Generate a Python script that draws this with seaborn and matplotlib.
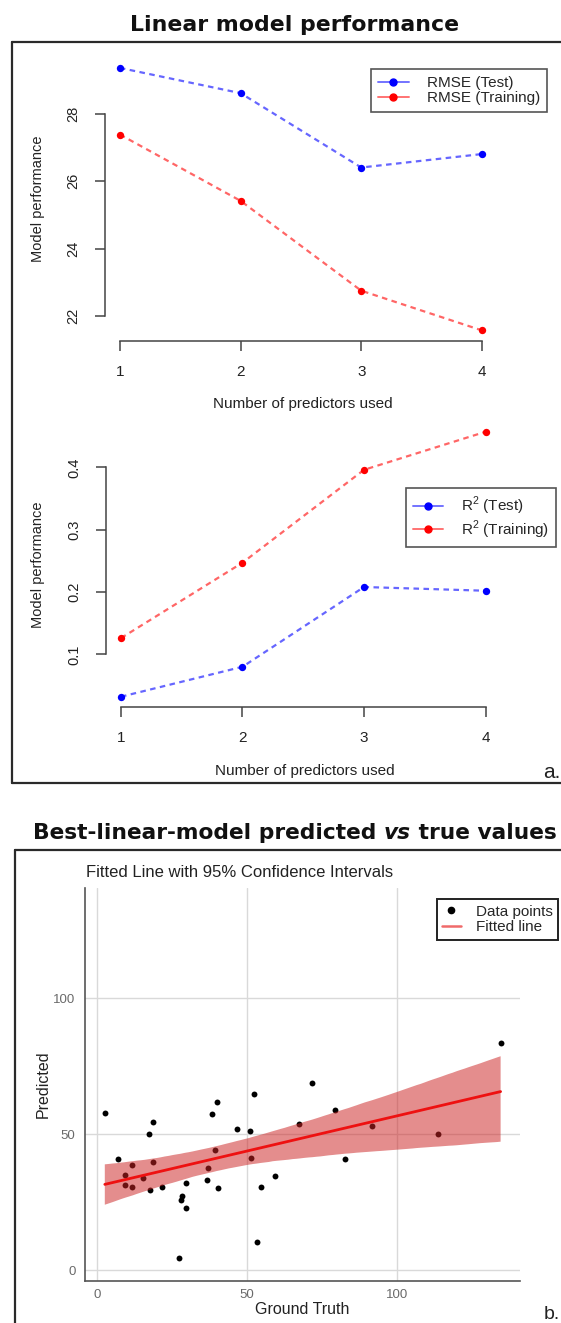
import matplotlib
matplotlib.use('Agg')
import matplotlib.pyplot as plt
import seaborn as sns
import numpy as np
import pandas as pd
from matplotlib.lines import Line2D

# ---------------- data ----------------
n_predictors = [1, 2, 3, 4]
rmse_test = [29.37, 28.62, 26.41, 26.81]
rmse_train = [27.39, 25.42, 22.75, 21.57]
r2_test = [0.032, 0.080, 0.208, 0.202]
r2_train = [0.126, 0.247, 0.396, 0.457]
rmse_ticks = [22, 24, 26, 28]
r2_ticks = [0.1, 0.2, 0.3, 0.4]
r2_tick_labels = ["0.1", "0.2", "0.3", "0.4"]

ground_truth = [2.5, 6.8, 11.7, 9.3, 9.4, 11.5, 15.4, 17.6, 17.4, 18.6, 18.6, 21.5,
                29.7, 28.4, 27.8, 29.7, 27.3, 36.8, 36.7, 39.3, 40.3, 38.3, 39.8,
                46.7, 51.0, 51.2, 52.1, 54.5, 53.3, 59.4, 67.4, 71.5, 79.4, 82.5,
                91.5, 113.7, 134.5]
predicted = [57.8, 41.0, 38.6, 34.9, 31.2, 30.5, 33.8, 29.6, 50.2, 54.5, 39.8, 30.5,
             32.2, 27.3, 25.8, 23.0, 4.5, 37.6, 33.1, 44.3, 30.1, 57.5, 62.0,
             51.8, 51.1, 41.4, 64.8, 30.5, 10.3, 34.7, 53.8, 68.9, 58.8, 41.0,
             53.2, 50.1, 83.6]
gg_ticks = [0, 50, 100]

# ---------------- setup ----------------
W, H = 561, 1323
sns.set_theme(style='white')
plt.rcParams['font.family'] = ['Liberation Sans', 'DejaVu Sans']
plt.rcParams['mathtext.fontset'] = 'custom'
plt.rcParams['mathtext.rm'] = 'Liberation Sans'

fig = plt.figure(figsize=(W / 100, H / 100), dpi=100)
fig.patch.set_facecolor('white')
renderer = fig.canvas.get_renderer()


def ax_at(l, t, r, b):
    return fig.add_axes([l / W, 1 - b / H, (r - l) / W, (b - t) / H])


def fig_line(xs, ys, **kw):
    fig.add_artist(Line2D([x / W for x in xs], [1 - y / H for y in ys],
                          transform=fig.transFigure, **kw))


AX_C = '#444444'


def r_panel(ax, test, train, ticks, ticklabels):
    for vals, c in ((test, 'blue'), (train, 'red')):
        sns.lineplot(x=n_predictors, y=vals, ax=ax, color=c, alpha=0.6, lw=1.6,
                     linestyle=(0, (2.5, 2)), legend=False)
        sns.scatterplot(x=n_predictors, y=vals, ax=ax, color=c, s=28,
                        linewidth=0, zorder=3, legend=False)
    allv = list(test) + list(train)
    lo, hi = min(allv), max(allv)
    pad = 0.04 * (hi - lo)
    ax.set_ylim(lo - pad, hi + pad)
    ax.set_xlim(1 - 0.04 * 3, 4 + 0.04 * 3)
    for s in ('top', 'right'):
        ax.spines[s].set_visible(False)
    for s in ('left', 'bottom'):
        ax.spines[s].set_color(AX_C)
        ax.spines[s].set_linewidth(1.1)
    ax.spines['left'].set_bounds(ticks[0], ticks[-1])
    ax.spines['bottom'].set_bounds(1, 4)
    ax.set_xticks(n_predictors)
    ax.set_yticks(ticks)
    ax.set_yticklabels(ticklabels)
    ax.tick_params(axis='both', direction='out', length=7, width=1.1, color=AX_C,
                   labelcolor='#222222', left=True, bottom=True)
    ax.tick_params(axis='x', labelsize=11, pad=10)
    ax.tick_params(axis='y', labelsize=10.5, pad=11, labelrotation=90)
    for lab in ax.get_yticklabels():
        lab.set_va('center')
    ax.set_xlabel('Number of predictors used', fontsize=11, color='#222222')
    ax.set_ylabel('Model performance', fontsize=10.5, color='#222222')
    ax.xaxis.set_label_coords(0.504, -0.222)
    ax.xaxis.label.set_va('center')
    ax.yaxis.set_label_coords(-0.173, 0.5)
    ax.yaxis.label.set_va('center')
    handles = [Line2D([], [], color=(0, 0, 1, 0.55), lw=1.4, marker='o', markersize=5,
                      markerfacecolor='blue', markeredgecolor='blue'),
               Line2D([], [], color=(1, 0, 0, 0.55), lw=1.4, marker='o', markersize=5,
                      markerfacecolor='red', markeredgecolor='red')]
    return handles


# ---------------- panel a (top) ----------------
ax1 = ax_at(105.4, 57.4, 496.4, 340.9)
h1 = r_panel(ax1, rmse_test, rmse_train, rmse_ticks, [str(t) for t in rmse_ticks])
leg1 = ax1.legend(h1, ['RMSE (Test)', 'RMSE (Training)'], loc='upper right',
                  bbox_to_anchor=(1.130, 0.958), borderaxespad=0, fontsize=11,
                  frameon=True, fancybox=False, framealpha=1, edgecolor='#555555',
                  handlelength=2.0, handletextpad=1.2, labelspacing=0.05,
                  borderpad=0.45)
leg1.get_frame().set_linewidth(1.2)

ax2 = ax_at(106.4, 421.2, 500.1, 707.3)
h2 = r_panel(ax2, r2_test, r2_train, r2_ticks, r2_tick_labels)
leg2 = ax2.legend(h2, [r'R$^{2}$ (Test)', r'R$^{2}$ (Training)'], loc='upper right',
                  bbox_to_anchor=(1.143, 0.7655), borderaxespad=0, fontsize=11,
                  frameon=True, fancybox=False, framealpha=1, edgecolor='#555555',
                  handlelength=2.0, handletextpad=1.2, labelspacing=0.05,
                  borderpad=0.45)
leg2.get_frame().set_linewidth(1.2)

# frame a
FR = '#2a2a2a'
fig_line([11.8, 11.8], [41.7, 783.3], color=FR, lw=1.6)
fig_line([11.8, W + 5], [41.7, 41.7], color=FR, lw=1.6)
fig_line([11.8, W + 5], [783.3, 783.3], color=FR, lw=1.6)
fig.text(560 / W, 1 - 778 / H, 'a.', ha='right', va='baseline', fontsize=15,
         color='#222222')

TFAM = ['DejaVu Sans']


def title_row(parts, center_x, baseline_y, target_w, size0=16):
    texts = []
    for s, st in parts:
        t = fig.text(0, 1 - baseline_y / H, s, ha='left', va='baseline', fontsize=size0,
                     weight='bold', style=st, family=TFAM, color='#111111')
        texts.append(t)
    total = sum(t.get_window_extent(renderer).width for t in texts)
    size = size0 * target_w / total
    for t in texts:
        t.set_fontsize(size)
    widths = [t.get_window_extent(renderer).width for t in texts]
    x0 = center_x - sum(widths) / 2
    for t, w in zip(texts, widths):
        t.set_x(x0 / W)
        x0 += w


title_row([('Linear model performance', 'normal')], 295, 31, 328)
title_row([('Best-linear-model predicted ', 'normal'), ('vs', 'oblique'),
           (' true values', 'normal')], 295, 839, 526)

# ---------------- panel b ----------------
fig_line([15, 15], [850, H + 5], color=FR, lw=1.6)
fig_line([15, W + 5], [850, 850], color=FR, lw=1.6)

fig.text(85.9 / W, 1 - 872.3 / H, 'Fitted Line with 95% Confidence Intervals',
         ha='left', va='center', fontsize=12, color='#222222')

ax3 = ax_at(85.2, 888.3, 519.5, 1280.7)
df = pd.DataFrame({'Ground Truth': ground_truth, 'Predicted': predicted})
sns.scatterplot(data=df, x='Ground Truth', y='Predicted', ax=ax3, color='black',
                s=18, linewidth=0, zorder=1, legend=False)
sns.regplot(data=df, x='Ground Truth', y='Predicted', ax=ax3, scatter=False, ci=95,
            n_boot=4000, seed=3, color='red',
            line_kws={'lw': 2.0, 'color': '#ee1111', 'zorder': 3})
band = ax3.collections[-1]
band.set_alpha(0.52)
band.set_facecolor((0.80, 0.14, 0.14))
band.set_edgecolor('none')
band.set_zorder(2)
ax3.set_xlim(-4.04, 140.8)
ax3.set_ylim(-3.8, 140.4)
ax3.set_xticks(gg_ticks)
ax3.set_yticks(gg_ticks)
ax3.grid(True, color='#d9d9d9', lw=1.0)
ax3.set_axisbelow(True)
for s in ('top', 'right'):
    ax3.spines[s].set_visible(False)
for s in ('left', 'bottom'):
    ax3.spines[s].set_color('#555555')
    ax3.spines[s].set_linewidth(1.2)
ax3.tick_params(axis='both', length=0, labelsize=9.5, labelcolor='#6a6a6a',
                left=False, bottom=False)
ax3.tick_params(axis='x', pad=6)
ax3.tick_params(axis='y', pad=7)
ax3.set_xlabel('Ground Truth', fontsize=11.5, color='#222222')
ax3.set_ylabel('Predicted', fontsize=11.5, color='#222222')
ax3.xaxis.set_label_coords(0.5, -0.073)
ax3.xaxis.label.set_va('center')
ax3.yaxis.set_label_coords(-0.097, 0.5)
ax3.yaxis.label.set_va('center')

h3 = [Line2D([], [], ls='none', marker='o', markersize=4.5, color='black'),
      Line2D([], [], color='#f06a6a', lw=1.8)]
leg3 = ax3.legend(h3, ['Data points', 'Fitted line'], loc='upper right',
                  bbox_to_anchor=(1.089, 0.972), borderaxespad=0, fontsize=11,
                  frameon=True, fancybox=False, framealpha=1, edgecolor='#222222',
                  handlelength=1.2, handletextpad=1.0, labelspacing=0.1,
                  borderpad=0.35)
leg3.get_frame().set_linewidth(1.4)

fig.text(560 / W, 1 - 1319 / H, 'b.', ha='right', va='baseline', fontsize=14,
         color='#222222')

fig.savefig('out.png', dpi=100, facecolor='white')
